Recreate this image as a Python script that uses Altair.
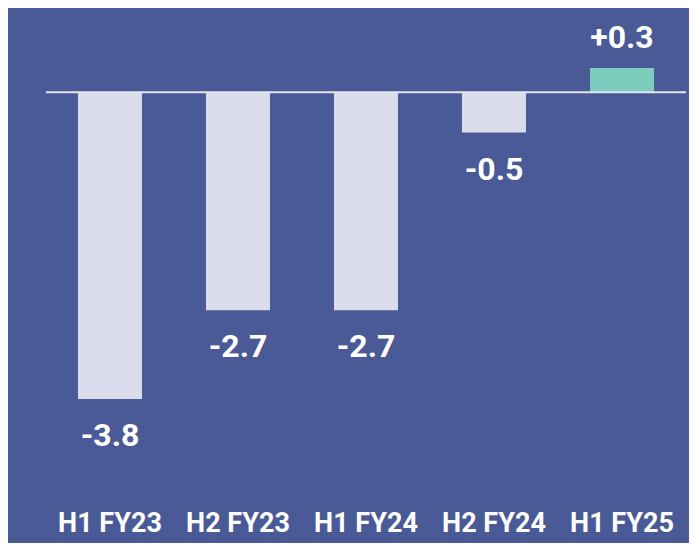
import altair as alt
import pandas as pd

periods = ["H1 FY23", "H2 FY23", "H1 FY24", "H2 FY24", "H1 FY25"]
values = [-3.8, -2.7, -2.7, -0.5, 0.3]
labels = ["-3.8", "-2.7", "-2.7", "-0.5", "+0.3"]

df = pd.DataFrame({"period": periods, "value": values, "label": labels})

FONT = "Roboto"
BG = "#4a5a96"

x = alt.X("period:N", sort=periods, title=None,
          scale=alt.Scale(paddingInner=0.5, paddingOuter=0.25),
          axis=alt.Axis(labelAngle=0, labelColor="white", labelFont=FONT,
                        labelFontSize=27, labelFontWeight="bold",
                        labelPadding=14, domain=False, ticks=False, grid=False))
y = alt.Y("value:Q", title=None, scale=alt.Scale(domain=[-5.0, 0.3], nice=False, zero=False),
          axis=None)

base = alt.Chart(df)

bars = base.mark_bar().encode(
    x=x, y=y, y2=alt.datum(0),
    color=alt.condition("datum.value > 0", alt.value("#7ccdbd"), alt.value("#dadcec")),
)

neg = base.transform_filter("datum.value < 0").mark_text(
    font=FONT, fontSize=32, fontWeight="bold", color="white", baseline="middle", dy=37
).encode(x=alt.X("period:N", sort=periods), y="value:Q", text="label:N")

pos = base.transform_filter("datum.value > 0").mark_text(
    font=FONT, fontSize=32, fontWeight="bold", color="white", baseline="middle", dy=-30
).encode(x=alt.X("period:N", sort=periods), y="value:Q", text="label:N")

zero = alt.Chart(pd.DataFrame({"z": [0]})).mark_rule(color="#e4e4ee", strokeWidth=2).encode(
    y=alt.Y("z:Q")
)

chart = alt.layer(bars, zero, neg, pos).properties(
    width=640, height=428,
    background=BG,
    padding={"left": 38, "right": 3, "top": 60, "bottom": 47},
    autosize=alt.AutoSizeParams(type="none"),
).configure_view(stroke=None)

chart.save("out.html", embed_options={"renderer": "svg", "actions": False})
